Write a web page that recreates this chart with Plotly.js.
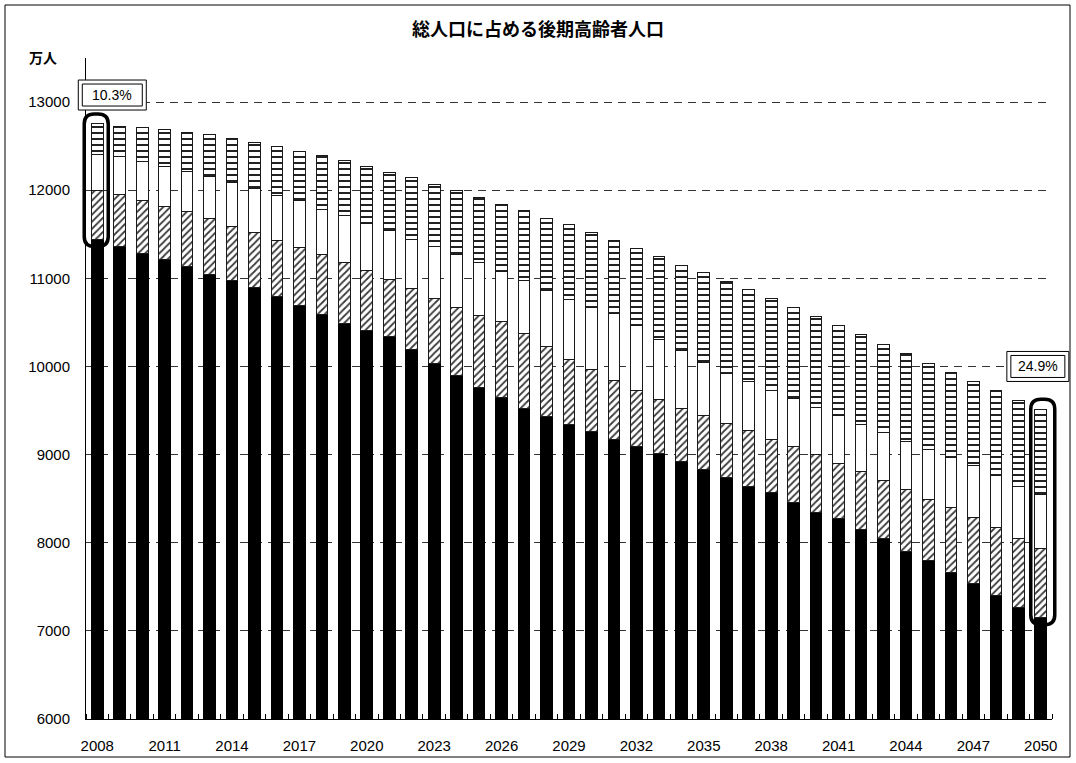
<!DOCTYPE html>
<html>
<head>
<meta charset="utf-8">
<script src="https://cdn.plot.ly/plotly-3.0.1.min.js"></script>
<style>
  html, body { margin: 0; padding: 0; background: #fff; }
  #chart { width: 1076px; height: 763px; }
</style>
</head>
<body>
<div id="chart"></div>
<script>
// 年次（2008〜2050）
const years = [
  2008, 2009, 2010, 2011, 2012, 2013, 2014, 2015, 2016, 2017,
  2018, 2019, 2020, 2021, 2022, 2023, 2024, 2025, 2026, 2027,
  2028, 2029, 2030, 2031, 2032, 2033, 2034, 2035, 2036, 2037,
  2038, 2039, 2040, 2041, 2042, 2043, 2044, 2045, 2046, 2047,
  2048, 2049, 2050
];
// 目盛ラベルを付ける年
const labelYears = [2008, 2011, 2014, 2017, 2020, 2023, 2026, 2029, 2032, 2035, 2038, 2041, 2044, 2047, 2050];
// 縦軸の目盛（万人）
const yTicks = [6000, 7000, 8000, 9000, 10000, 11000, 12000, 13000];

// 年齢階級別人口（万人）
const under75 = [
  11441, 11366, 11283, 11215, 11132, 11045, 10981, 10894, 10792, 10687,
  10585, 10483, 10407, 10336, 10188, 10038, 9894, 9762, 9645, 9528,
  9434, 9347, 9260, 9170, 9087, 9011, 8924, 8830, 8735, 8641,
  8566, 8452, 8347, 8271, 8151, 8045, 7905, 7800, 7660, 7539,
  7404, 7264, 7150
];
const age75to79 = [
  559, 585, 604, 596, 623, 634, 611, 623, 634, 658,
  687, 698, 683, 653, 699, 728, 774, 815, 861, 842,
  792, 736, 702, 671, 637, 619, 604, 611, 623, 630,
  611, 635, 653, 627, 660, 664, 698, 690, 736, 744,
  766, 781, 782
];
const age80to84 = [
  404, 426, 434, 461, 460, 472, 491, 502, 517, 534,
  513, 528, 533, 551, 558, 592, 604, 604, 573, 603,
  634, 672, 706, 755, 736, 679, 653, 604, 566, 559,
  547, 551, 536, 543, 528, 544, 548, 570, 566, 592,
  596, 596, 615
];
const age85plus = [
  351, 351, 389, 415, 442, 479, 502, 521, 555, 555,
  604, 623, 649, 660, 695, 710, 724, 736, 762, 801,
  823, 853, 849, 834, 883, 944, 970, 1019, 1038, 1045,
  1049, 1034, 1030, 1019, 1019, 1000, 1000, 970, 970, 955,
  958, 974, 970
];

const FONT = '"Noto Sans CJK JP", "Noto Sans", sans-serif';
const NUM_FONT = '"Liberation Sans", Arial, sans-serif';

const last = years.length - 1;
const xRange = [years[0] - 0.5, years[last] + 0.5];
const yRange = [6000, 13500];
// 軸の値を用紙座標へ換算（枠をプロット領域外まで描くため）
const toPaperX = v => (v - xRange[0]) / (xRange[1] - xRange[0]);
const toPaperY = v => (v - yRange[0]) / (yRange[1] - yRange[0]);

const totals = years.map((_, i) => under75[i] + age75to79[i] + age80to84[i] + age85plus[i]);
const elderlyShare = i => ((totals[i] - under75[i]) / totals[i] * 100).toFixed(1) + '%';

const barBase = { type: 'bar', x: years, width: 0.52, hoverinfo: 'skip' };
const outline = { color: '#1a1a1a', width: 1 };

const traces = [
  { ...barBase, name: '75歳未満', y: under75,
    marker: { color: '#000', line: { color: '#000', width: 1 } } },
  { ...barBase, name: '75～79歳', y: age75to79,
    marker: { color: '#fff', line: outline,
      pattern: { shape: '/', fgcolor: '#3a3a3a', bgcolor: '#fff', size: 5, solidity: 0.35 } } },
  { ...barBase, name: '80～84歳', y: age80to84,
    marker: { color: '#fff', line: outline } },
  { ...barBase, name: '85歳以上', y: age85plus,
    marker: { color: '#fff', line: outline,
      pattern: { shape: '-', fgcolor: '#222', bgcolor: '#fff', size: 6, solidity: 0.33 } } }
];

// 最初と最後の年の75歳以上部分を囲む角丸枠
function highlight(i, dx) {
  const y0 = toPaperY(under75[i] - 80), y1 = toPaperY(totals[i] + 110);
  const ry = 10 / 661, w = 12, c = 2;
  return {
    type: 'path', layer: 'above',
    xref: 'paper', yref: 'paper', xsizemode: 'pixel', xanchor: toPaperX(years[i]),
    path: `M ${dx - w},${y0 + ry} L ${dx - w},${y1 - ry} Q ${dx - w},${y1} ${dx - c},${y1} L ${dx + c},${y1} ` +
          `Q ${dx + w},${y1} ${dx + w},${y1 - ry} L ${dx + w},${y0 + ry} Q ${dx + w},${y0} ${dx + c},${y0} ` +
          `L ${dx - c},${y0} Q ${dx - w},${y0} ${dx - w},${y0 + ry} Z`,
    line: { color: '#000', width: 3.5 }, fillcolor: 'rgba(0,0,0,0)'
  };
}

// 二重線の割合ラベル枠
function labelBox(xa, ya, w, h) {
  const base = { type: 'rect', layer: 'above', xref: 'paper', yref: 'paper',
    xsizemode: 'pixel', ysizemode: 'pixel', xanchor: xa, yanchor: ya };
  return [
    { ...base, x0: -w / 2, x1: w / 2, y0: -h / 2, y1: h / 2,
      fillcolor: '#fff', line: { color: '#000', width: 1 } },
    { ...base, x0: -w / 2 + 4, x1: w / 2 - 4, y0: -h / 2 + 4, y1: h / 2 - 4,
      fillcolor: 'rgba(0,0,0,0)', line: { color: '#000', width: 1 } }
  ];
}

const firstLabel = { x: toPaperX(years[0] + 0.67), y: toPaperY(13080) };
const lastLabel = { x: toPaperX(years[last] - 0.13), y: toPaperY(10000) };

const shapes = [
  highlight(0, -1),
  highlight(last, 2),
  ...labelBox(firstLabel.x, firstLabel.y, 68, 30),
  ...labelBox(lastLabel.x, lastLabel.y, 62, 30),
  // 外枠
  { type: 'rect', xref: 'paper', yref: 'paper', layer: 'above',
    x0: (5 - 86) / 966, x1: (1070 - 86) / 966,
    y0: (719 - 757) / 661, y1: (719 - 5) / 661,
    line: { color: '#000', width: 1 }, fillcolor: 'rgba(0,0,0,0)' }
];

const annotations = [
  { text: elderlyShare(0), x: firstLabel.x, y: firstLabel.y, xref: 'paper', yref: 'paper',
    xanchor: 'center', yanchor: 'middle',
    showarrow: false, font: { size: 14, family: NUM_FONT, color: '#000' } },
  { text: elderlyShare(last), x: lastLabel.x, y: lastLabel.y, xref: 'paper', yref: 'paper',
    xanchor: 'center', yanchor: 'middle',
    showarrow: false, font: { size: 14, family: NUM_FONT, color: '#000' } },
  { text: '万人', xref: 'paper', yref: 'paper', x: (42.5 - 86) / 966, y: (719 - 57.5) / 661,
    xanchor: 'center', yanchor: 'middle', showarrow: false,
    font: { size: 14, family: FONT, color: '#000', weight: 'bold' } }
];

const boundaries = years.map(y => y - 0.5).concat([years[last] + 0.5]);

const layout = {
  width: 1076, height: 763,
  margin: { l: 86, r: 24, t: 58, b: 44 },
  paper_bgcolor: '#fff', plot_bgcolor: '#fff',
  barmode: 'stack', bargap: 0.48, showlegend: false,
  font: { family: FONT, color: '#000', size: 13 },
  title: {
    text: '総人口に占める後期高齢者人口',
    font: { family: FONT, size: 18, color: '#000', weight: 'bold' },
    x: 0.5, xref: 'container', xanchor: 'center',
    y: 1 - 30 / 763, yref: 'container', yanchor: 'middle'
  },
  xaxis: {
    type: 'linear', range: xRange,
    tickmode: 'array', tickvals: labelYears, tickformat: 'd',
    ticks: '', showgrid: false, zeroline: false,
    showline: true, linecolor: '#000', linewidth: 1,
    tickfont: { size: 15, family: NUM_FONT, color: '#000' },
    ticklabelstandoff: 13,
    minor: { tickmode: 'array', tickvals: boundaries, ticks: 'inside', ticklen: 5,
             tickcolor: '#000', tickwidth: 1, showgrid: false },
    fixedrange: true
  },
  yaxis: {
    range: yRange,
    tickmode: 'array', tickvals: yTicks,
    tickformat: 'd', ticks: '',
    showgrid: true, gridcolor: '#333', gridwidth: 1, griddash: '8px,6px',
    zeroline: false, showline: true, linecolor: '#000', linewidth: 1,
    tickfont: { size: 15, family: NUM_FONT, color: '#000' },
    ticklabelstandoff: 12,
    fixedrange: true
  },
  shapes: shapes,
  annotations: annotations
};

Plotly.newPlot('chart', traces, layout, { displayModeBar: false, staticPlot: true });
</script>
</body>
</html>
